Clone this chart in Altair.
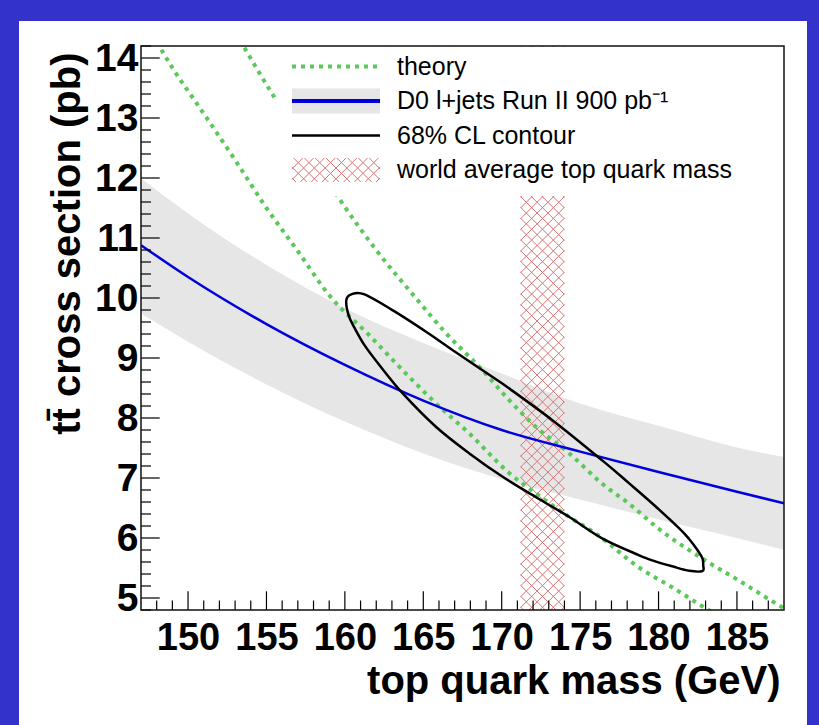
import altair as alt
import numpy as np
import pandas as pd

# ---------------- data ----------------
# D0 l+jets measurement: central value and uncertainty band (pb) vs top mass (GeV)
d0_mass = [147, 150, 155, 160, 165, 170, 175, 180, 185, 188]
d0_xsec = [10.88, 10.35, 9.565, 8.885, 8.29, 7.80, 7.44, 7.10, 6.77, 6.58]
d0_up = [11.99, 11.41, 10.55, 9.83, 9.25, 8.74, 8.24, 7.87, 7.51, 7.35]
d0_dn = [9.74, 9.27, 8.56, 7.94, 7.41, 6.98, 6.64, 6.31, 6.00, 5.80]

# theory band edges (dotted green)
theo_lo_mass = [148.0, 149.04, 150.64, 153.0, 155.0, 157.0, 159.02, 161.57, 163.69,
                165.82, 167.94, 170.49, 172.19, 174.31, 176.01, 178.8, 180.86, 183.0, 183.6]
theo_lo_xsec = [14.27, 13.82, 13.21, 12.3, 11.5, 10.78, 10.04, 9.375, 8.795,
                8.24, 7.74, 7.08, 6.74, 6.35, 6.07, 5.5, 5.18, 4.83, 4.74]
theo_hi_mass = [153.3, 155.47, 157.5, 159.63, 162.0, 164.65, 166.46, 168.58, 170.49,
                172.19, 174.31, 176.43, 178.13, 180.03, 183.02, 185.13, 187.8, 188.2]
theo_hi_xsec = [14.3, 13.36, 12.55, 11.66, 10.8, 9.96, 9.41, 8.85, 8.295,
                7.85, 7.41, 6.9, 6.57, 6.15, 5.62, 5.29, 4.86, 4.8]

# 68% CL contour (closed curve)
contour_mass = [170.06, 173.25, 176.43, 178.13, 179.73, 181.32, 181.96, 182.48, 182.80,
                182.85, 182.80, 181.96, 180.87, 179.6, 178.77, 176.43, 174.31, 172.19,
                170.06, 167.94, 165.82, 163.69, 162.21, 161.26, 160.62, 160.24, 160.09,
                160.41, 161.25, 163.27, 165.39, 166.88, 170.06]
contour_xsec = [8.57, 7.96, 7.29, 6.91, 6.545, 6.16, 5.98, 5.80, 5.66,
                5.545, 5.45, 5.453, 5.528, 5.628, 5.712, 5.99, 6.35, 6.68,
                7.02, 7.41, 7.85, 8.41, 8.88, 9.21, 9.50, 9.71, 9.96,
                10.06, 10.06, 9.76, 9.40, 9.13, 8.57]

# world average top quark mass
wa_mass = 172.6
wa_err = 1.4

x_major = [150, 155, 160, 165, 170, 175, 180, 185]
y_major = [5, 6, 7, 8, 9, 10, 11, 12, 13, 14]

legend_labels = ["theory", "D0 l+jets Run II 900 pb\u207b\u00b9", "68% CL contour",
                 "world average top quark mass"]

# ---------------- layout / style ----------------
W, H = 643, 564
XMIN, XMAX = 147.0, 188.0
YMIN, YMAX = 4.8, 14.2
FONT = "Liberation Sans, Arial, Helvetica, sans-serif"
GREEN = "#5CC85C"
BLUE = "#0000DD"
GRAY = "#E6E6E6"
HATCH = "#D87474"

xscale = alt.Scale(domain=[XMIN, XMAX], nice=False, zero=False)
yscale = alt.Scale(domain=[YMIN, YMAX], nice=False, zero=False)


def px2x(px):
    return XMIN + px / W * (XMAX - XMIN)


def py2y(py):
    return YMAX - py / H * (YMAX - YMIN)


def x2px(x):
    return (x - XMIN) / (XMAX - XMIN) * W


def hatch_segments(x0, x1, y0, y1, step):
    segs = []
    cmin, cmax = x0 + y0, x1 + y1
    c = cmin
    while c <= cmax:
        lo, hi = max(x0, c - y1), min(x1, c - y0)
        if hi > lo:
            segs.append((lo, c - lo, hi, c - hi))
        c += step
    cmin, cmax = y0 - x1, y1 - x0
    c = cmin
    while c <= cmax:
        lo, hi = max(x0, y0 - c), min(x1, y1 - c)
        if hi > lo:
            segs.append((lo, lo + c, hi, hi + c))
        c += step
    return pd.DataFrame([{"x": px2x(a), "y": py2y(b), "x2": px2x(cc), "y2": py2y(d)}
                         for a, b, cc, d in segs])


one = pd.DataFrame({"a": [0]})

x_axis = alt.Axis(values=x_major, format="d", ticks=False, domain=False, grid=False,
                  labelFont=FONT, labelFontWeight="bold", labelFontSize=38,
                  labelPadding=9, labelColor="black", labelFlush=False, labelOverlap=False,
                  title="top quark mass (GeV)", titleFont=FONT, titleFontWeight="bold",
                  titleFontSize=40, titleColor="black", titleX=639, titleY=83,
                  titleAlign="right", titleBaseline="alphabetic", zindex=1)
y_axis = alt.Axis(values=y_major, format="d", ticks=False, domain=False, grid=False,
                  labelFont=FONT, labelFontWeight="bold", labelFontSize=39,
                  labelPadding=3, labelColor="black", labelFlush=False, labelOverlap=False,
                  title="tt\u0304 cross section (pb)", titleFont=FONT, titleFontWeight="bold",
                  titleFontSize=40, titleColor="black", titleX=-62, titleY=6,
                  titleAngle=270, titleAlign="right", titleBaseline="alphabetic", zindex=1)


def X(field):
    return alt.X(field, scale=xscale, axis=x_axis)


def Y(field):
    return alt.Y(field, scale=yscale, axis=y_axis)


# white panel inside the blue border
panel = alt.Chart(one).mark_rect(color="white").encode(
    x=alt.value(-122), x2=alt.value(666), y=alt.value(-25), y2=alt.value(700))

band_df = pd.DataFrame({"m": d0_mass, "lo": d0_dn, "hi": d0_up, "c": d0_xsec})
band = alt.Chart(band_df).mark_area(color=GRAY, interpolate="monotone", clip=True).encode(
    x=X("m:Q"), y=Y("lo:Q"), y2="hi:Q")

hatch_df = hatch_segments(x2px(wa_mass - wa_err), x2px(wa_mass + wa_err), 0, H, 10.8)
hatch = alt.Chart(hatch_df).mark_rule(color=HATCH, strokeWidth=1, clip=True).encode(
    x=X("x:Q"), y=Y("y:Q"), x2="x2:Q", y2="y2:Q")

theo_df = pd.concat([
    pd.DataFrame({"m": theo_lo_mass, "s": theo_lo_xsec, "k": "lo"}),
    pd.DataFrame({"m": theo_hi_mass, "s": theo_hi_xsec, "k": "hi"})])
theory = alt.Chart(theo_df).mark_line(color=GREEN, strokeWidth=4, strokeDash=[4, 5],
                                      interpolate="monotone", clip=True).encode(
    x=X("m:Q"), y=Y("s:Q"), detail="k:N")

central = alt.Chart(band_df).mark_line(color=BLUE, strokeWidth=2.5, interpolate="monotone",
                                       clip=True).encode(x=X("m:Q"), y=Y("c:Q"))

cont_df = pd.DataFrame({"m": contour_mass, "s": contour_xsec, "i": range(len(contour_mass))})
contour = alt.Chart(cont_df).mark_line(color="black", strokeWidth=2.5, interpolate="cardinal",
                                       clip=True).encode(x=X("m:Q"), y=Y("s:Q"), order="i:Q")

# ---------------- legend ----------------
rows = [20.5, 55, 89.5, 124]
SX0, SX1, TX = 151, 239, 256
legbox = alt.Chart(one).mark_rect(color="white").encode(
    x=alt.value(135), x2=alt.value(632), y=alt.value(1), y2=alt.value(150))
leg_theory = alt.Chart(one).mark_rule(color=GREEN, strokeWidth=4, strokeDash=[4, 5]).encode(
    x=alt.value(SX0), x2=alt.value(SX1), y=alt.value(rows[0]))
leg_band = alt.Chart(one).mark_rect(color=GRAY).encode(
    x=alt.value(SX0), x2=alt.value(SX1), y=alt.value(rows[1] - 12.5), y2=alt.value(rows[1] + 12.5))
leg_blue = alt.Chart(one).mark_rule(color=BLUE, strokeWidth=4).encode(
    x=alt.value(SX0), x2=alt.value(SX1), y=alt.value(rows[1]))
leg_cont = alt.Chart(one).mark_rule(color="black", strokeWidth=2.5).encode(
    x=alt.value(SX0), x2=alt.value(SX1), y=alt.value(rows[2]))
leg_hatch_df = hatch_segments(SX0, SX1, rows[3] - 12, rows[3] + 12, 10.8)
leg_hatch = alt.Chart(leg_hatch_df).mark_rule(color=HATCH, strokeWidth=1).encode(
    x=X("x:Q"), y=Y("y:Q"), x2="x2:Q", y2="y2:Q")
leg_texts = [
    alt.Chart(one).mark_text(align="left", baseline="middle", font=FONT, fontSize=25,
                             color="black").encode(
        x=alt.value(TX), y=alt.value(r), text=alt.value(t))
    for r, t in zip(rows, legend_labels)]

# ---------------- ticks (pointing inwards) and frame ----------------
x_minor = [v for v in range(148, 188) if v % 5]
y_minor = [round(4.8 + 0.2 * i, 1) for i in range(48) if abs(round(4.8 + 0.2 * i, 1) % 1) > 1e-6]
tick_xM = alt.Chart(pd.DataFrame({"m": x_major})).mark_rule(color="black", strokeWidth=1.2).encode(
    x=X("m:Q"), y=alt.value(H), y2=alt.value(H - 18.7))
tick_xm = alt.Chart(pd.DataFrame({"m": x_minor})).mark_rule(color="black", strokeWidth=1.2).encode(
    x=X("m:Q"), y=alt.value(H), y2=alt.value(H - 9.5))
tick_yM = alt.Chart(pd.DataFrame({"s": y_major})).mark_rule(color="black", strokeWidth=1.2).encode(
    y=Y("s:Q"), x=alt.value(0), x2=alt.value(18.7))
tick_ym = alt.Chart(pd.DataFrame({"s": y_minor})).mark_rule(color="black", strokeWidth=1.2).encode(
    y=Y("s:Q"), x=alt.value(0), x2=alt.value(10))
frame = alt.Chart(one).mark_rect(fillOpacity=0, stroke="#111111", strokeWidth=1.5).encode(
    x=alt.value(0), x2=alt.value(W), y=alt.value(0), y2=alt.value(H))

chart = alt.layer(
    panel, band, hatch, theory, central, contour,
    legbox, leg_theory, leg_band, leg_blue, leg_cont, leg_hatch, *leg_texts,
    tick_xM, tick_xm, tick_yM, tick_ym, frame
).properties(
    width=W, height=H,
    padding={"left": 141, "top": 46, "right": 35, "bottom": 115},
    autosize=alt.AutoSizeParams(type="none"),
    background="#3333CC",
).configure_view(stroke=None)

chart.save("out.html", embed_options={"renderer": "svg", "actions": False})
